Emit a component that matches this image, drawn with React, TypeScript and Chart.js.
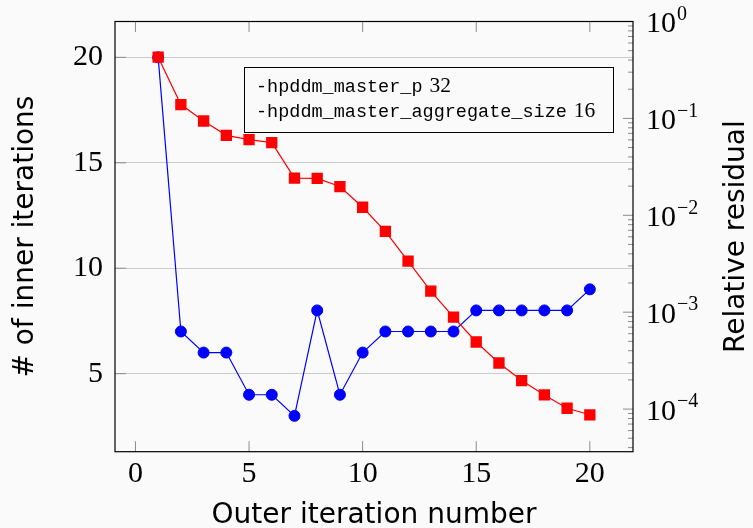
import React, { useEffect, useRef } from 'react';
import { Chart, registerables } from 'chart.js';

Chart.register(...registerables);

const outerIterations = [1, 2, 3, 4, 5, 6, 7, 8, 9, 10, 11, 12, 13, 14, 15, 16, 17, 18, 19, 20];
const innerIterations = [20, 7, 6, 6, 4, 4, 3, 8, 4, 6, 7, 7, 7, 7, 8, 8, 8, 8, 8, 9];
const relativeResidual = [
  0.428, 0.139, 0.094, 0.0668, 0.0604, 0.0562, 0.0242, 0.024, 0.0198, 0.0121,
  0.00683, 0.00336, 0.00165, 0.00089, 0.000492, 0.000299, 0.000197, 0.00014, 0.000102, 0.0000873,
];
const xTicks = [0, 5, 10, 15, 20];
const leftTicks = [5, 10, 15, 20];
const rightExponents = [0, -1, -2, -3, -4];
const legendOptions = ['-hpddm_master_p', '-hpddm_master_aggregate_size'];
const legendValues = ['32', '16'];
const xTitle = 'Outer iteration number';
const leftTitle = '# of inner iterations';
const rightTitle = 'Relative residual';

const SERIF = '"Liberation Serif", "DejaVu Serif", serif';
const SANS = '"DejaVu Sans", "Noto Sans", sans-serif';
const MONO = '"Liberation Mono", "DejaVu Sans Mono", monospace';
const BG = '#fafafa';

const decor = {
  id: 'decor',
  beforeDraw(chart: any) {
    const { ctx, width, height } = chart;
    ctx.save();
    ctx.fillStyle = BG;
    ctx.fillRect(0, 0, width, height);
    ctx.restore();
  },
  beforeDatasetsDraw(chart: any) {
    const { ctx, chartArea, scales } = chart;
    const { left, right, top, bottom } = chartArea;
    const line = (x1: number, y1: number, x2: number, y2: number) => {
      ctx.beginPath();
      ctx.moveTo(x1, y1);
      ctx.lineTo(x2, y2);
      ctx.stroke();
    };
    ctx.save();
    ctx.strokeStyle = '#8c8c8c';
    ctx.lineWidth = 1;
    xTicks.forEach((v) => {
      const px = scales.x.getPixelForValue(v);
      line(px, bottom, px, bottom - 10.5);
      line(px, top, px, top + 10.5);
    });
    leftTicks.forEach((v) => {
      const py = scales.y.getPixelForValue(v);
      line(left, py, left + 11, py);
    });
    const y2 = scales.y2;
    for (let e = -5; e <= 0; e++) {
      for (let m = 1; m <= 9; m++) {
        const v = m * Math.pow(10, e);
        if (v < y2.min * 0.9999 || v > y2.max * 1.0001) continue;
        const py = y2.getPixelForValue(v);
        const len = m === 1 ? 10 : 5;
        line(right - len, py, right, py);
      }
    }
    ctx.strokeStyle = '#000';
    ctx.lineWidth = 1.2;
    ctx.strokeRect(left, top, right - left, bottom - top);
    ctx.restore();
  },
  afterDatasetsDraw(chart: any) {
    const { ctx, chartArea, scales } = chart;
    const { left, right, top, bottom } = chartArea;
    ctx.save();
    // legend box
    const bx = 244, by = 67, bw = 369, bh = 65;
    ctx.fillStyle = BG;
    ctx.fillRect(bx, by, bw, bh);
    ctx.strokeStyle = '#000';
    ctx.lineWidth = 1;
    ctx.strokeRect(bx + 0.5, by + 0.5, bw, bh);
    ctx.fillStyle = '#000';
    ctx.textBaseline = 'alphabetic';
    ctx.textAlign = 'left';
    legendOptions.forEach((opt, i) => {
      const baseY = 91.5 + i * 25;
      ctx.font = `18.5px ${MONO}`;
      ctx.fillText(opt, 256, baseY);
      const w = ctx.measureText(opt).width;
      ctx.font = `21.5px ${SERIF}`;
      ctx.fillText(legendValues[i], 256 + w + 7, baseY);
    });
    // right axis labels
    const y2 = scales.y2;
    rightExponents.forEach((e) => {
      const py = y2.getPixelForValue(Math.pow(10, e));
      const x0 = right + 13;
      ctx.font = `30px ${SERIF}`;
      ctx.textBaseline = 'middle';
      ctx.fillText('10', x0, py + 3);
      const w = ctx.measureText('10').width;
      ctx.font = `20px ${SERIF}`;
      const sup = e === 0 ? '0' : '\u2212' + String(-e);
      ctx.fillText(sup, x0 + w + 1, py - 7);
    });
    // titles
    ctx.font = `28px ${SANS}`;
    ctx.textBaseline = 'alphabetic';
    ctx.textAlign = 'center';
    ctx.fillText(xTitle, (left + right) / 2, 523);
    const cy = (top + bottom) / 2;
    ctx.save();
    ctx.translate(33, cy);
    ctx.rotate(-Math.PI / 2);
    ctx.fillText(leftTitle, 0, 0);
    ctx.restore();
    ctx.save();
    ctx.translate(744, cy);
    ctx.rotate(-Math.PI / 2);
    ctx.fillText(rightTitle, 0, 0);
    ctx.restore();
    ctx.restore();
  },
};

export default function App() {
  const ref = useRef<HTMLCanvasElement | null>(null);
  useEffect(() => {
    document.body.style.margin = '0';
    document.body.style.background = BG;
    const canvas = ref.current;
    if (!canvas) return;
    const chart = new Chart(canvas, {
      type: 'line',
      data: {
        datasets: [
          {
            label: 'Relative residual',
            data: outerIterations.map((x, i) => ({ x, y: relativeResidual[i] })),
            yAxisID: 'y2',
            borderColor: '#ff0000',
            backgroundColor: '#ff0000',
            borderWidth: 1.2,
            pointStyle: 'rect',
            pointRadius: 8,
            pointBorderWidth: 0,
            pointHoverRadius: 8,
            tension: 0,
          },
          {
            label: 'Inner iterations',
            data: outerIterations.map((x, i) => ({ x, y: innerIterations[i] })),
            yAxisID: 'y',
            borderColor: '#0000ff',
            backgroundColor: '#0000ff',
            borderWidth: 1.2,
            pointStyle: 'circle',
            pointRadius: 5.5,
            pointBorderWidth: 1,
            pointHoverRadius: 5.5,
            tension: 0,
          },
        ],
      },
      plugins: [decor],
      options: {
        responsive: false,
        animation: false,
        events: [],
        layout: { padding: { top: 21.5, left: 0, right: 0, bottom: 0 } },
        plugins: { legend: { display: false }, tooltip: { enabled: false }, title: { display: false } },
        scales: {
          x: {
            type: 'linear',
            min: -0.9,
            max: 21.9,
            afterBuildTicks: (s: any) => { s.ticks = xTicks.map((v) => ({ value: v })); },
            afterFit: (s: any) => { s.height = 76.3; s.paddingLeft = 0; s.paddingRight = 0; },
            grid: { display: false, drawTicks: false },
            border: { display: false },
            ticks: { color: '#000', font: { family: SERIF, size: 30 }, padding: 4, maxRotation: 0, autoSkip: false },
          },
          y: {
            type: 'linear',
            position: 'left',
            min: 1.3,
            max: 21.7,
            afterBuildTicks: (s: any) => { s.ticks = leftTicks.map((v) => ({ value: v })); },
            afterFit: (s: any) => { s.width = 115; s.paddingTop = 0; s.paddingBottom = 0; },
            grid: { display: true, color: '#cccccc', lineWidth: 1, drawTicks: false },
            border: { display: false },
            ticks: { color: '#000', font: { family: SERIF, size: 30 }, padding: 12 },
          },
          y2: {
            type: 'logarithmic',
            position: 'right',
            min: Math.pow(10, -4.44),
            max: 1,
            afterFit: (s: any) => { s.width = 120; s.paddingTop = 0; s.paddingBottom = 0; },
            grid: { display: false, drawTicks: false },
            border: { display: false },
            ticks: { display: false },
          },
        },
      } as any,
    });
    return () => chart.destroy();
  }, []);
  return (
    <div style={{ width: 753, height: 528 }}>
      <canvas ref={ref} width={753} height={528} style={{ display: 'block' }} />
    </div>
  );
}
